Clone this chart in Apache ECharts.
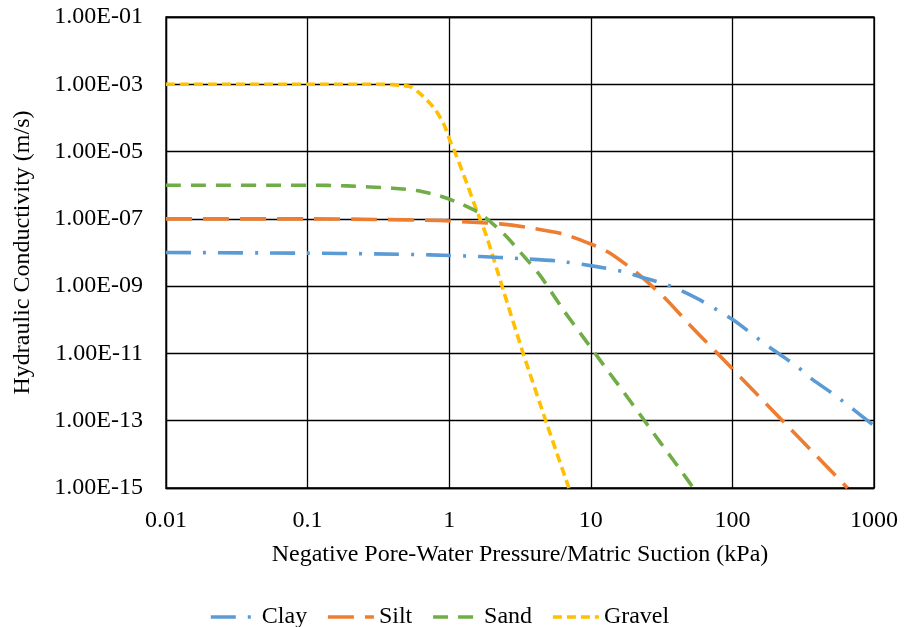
<!DOCTYPE html>
<html>
<head>
<meta charset="utf-8">
<script src="https://cdn.jsdelivr.net/npm/echarts@6/dist/echarts.min.js"></script>
<style>
  html, body { margin: 0; padding: 0; background: #fff; }
  #chart { width: 904px; height: 627px; }
</style>
</head>
<body>
<div id="chart"></div>
<script>
// ---- data ----
const seriesNames = ['Clay', 'Silt', 'Sand', 'Gravel'];

const xTickValues = [0.01, 0.1, 1, 10, 100, 1000];
const xTickLabels = ['0.01', '0.1', '1', '10', '100', '1000'];

const yTickValues = [1e-15, 1e-13, 1e-11, 1e-9, 1e-7, 1e-5, 1e-3, 1e-1];
const yTickLabels = ['1.00E-15', '1.00E-13', '1.00E-11', '1.00E-09', '1.00E-07', '1.00E-05', '1.00E-03', '1.00E-01'];

const clayX = [0.01, 0.1, 0.3, 0.73, 1.65, 3.16, 5.74, 11.0, 17.0, 22.2, 32.5, 40.4, 59, 101, 140, 186, 285, 367, 545, 1000];
const clayK = [1.0e-8, 9.55e-9, 9.12e-9, 8.51e-9, 7.59e-9, 6.61e-9, 5.62e-9, 3.80e-9, 2.69e-9, 1.91e-9, 1.20e-9, 8.51e-10, 3.89e-10, 1.0e-10, 3.55e-11, 1.45e-11, 4.17e-12, 1.70e-12, 5.25e-13, 7.08e-14];

const siltX = [0.01, 0.1, 0.3, 0.86, 1.47, 2.29, 3.53, 6.4, 9.87, 11.7, 13.7, 17.9, 23.5, 34.4, 50.2, 86.4, 113, 175, 255, 394, 650];
const siltK = [1.0e-7, 1.0e-7, 9.6e-8, 8.91e-8, 7.94e-8, 7.08e-8, 5.62e-8, 3.55e-8, 1.82e-8, 1.35e-8, 9.55e-9, 4.27e-9, 1.70e-9, 3.89e-10, 6.92e-11, 6.61e-12, 2.04e-12, 3.02e-13, 5.89e-14, 8.91e-15, 1.0e-15];

const sandX = [0.01, 0.1, 0.19, 0.40, 0.59, 0.86, 1.19, 1.65, 2.41, 3.16, 4.38, 6.4, 8.4, 10.4, 12.9, 17.0, 22.2, 27.6, 34.3, 43.8, 53];
const sandK = [1.0e-6, 1.0e-6, 9.55e-7, 8.13e-7, 6.92e-7, 4.79e-7, 2.88e-7, 1.45e-7, 3.72e-8, 1.05e-8, 2.09e-9, 1.95e-10, 4.07e-11, 1.20e-11, 3.47e-12, 7.24e-13, 1.55e-13, 4.37e-14, 1.26e-14, 3.09e-15, 1.0e-15];

const gravelX = [0.01, 0.1, 0.3, 0.4, 0.45, 0.53, 0.62, 0.77, 0.91, 1.01, 1.13, 1.33, 1.56, 1.84, 2.41, 3.33, 4.88, 7.0];
const gravelK = [1.0e-3, 1.0e-3, 1.0e-3, 9.77e-4, 9.33e-4, 8.51e-4, 5.37e-4, 2.14e-4, 6.92e-5, 2.19e-5, 7.08e-6, 1.15e-6, 1.82e-7, 2.95e-8, 7.59e-10, 1.0e-11, 8.32e-14, 1.0e-15];

// ---- chart ----
const FONT = "'Liberation Serif', 'Times New Roman', serif";
const pairs = (xs, ks) => xs.map((x, i) => [x, ks[i]]);

function labelFor(values, labels, v) {
  const e = Math.log10(v);
  for (let i = 0; i < values.length; i++) {
    if (Math.abs(Math.log10(values[i]) - e) < 1e-6) return labels[i];
  }
  return '';
}

const styles = [
  { color: '#5B9BD5', type: [25, 12, 3, 12] },
  { color: '#ED7D31', type: [26, 11] },
  { color: '#70AD47', type: [15, 10] },
  { color: '#FFC000', type: [9, 5] }
];
const dataSets = [pairs(clayX, clayK), pairs(siltX, siltK), pairs(sandX, sandK), pairs(gravelX, gravelK)];

const chart = echarts.init(document.getElementById('chart'), null, { renderer: 'canvas' });
chart.setOption({
  animation: false,
  backgroundColor: '#fff',
  grid: {
    left: 166, top: 17, width: 708, height: 471,
    show: true, borderColor: '#000', borderWidth: 1.3, backgroundColor: 'transparent'
  },
  legend: {
    data: seriesNames,
    left: 204, top: 600,
    itemWidth: 46, itemHeight: 14, itemGap: 19,
    itemStyle: { color: 'rgba(0,0,0,0)', borderColor: 'rgba(0,0,0,0)', borderWidth: 0, opacity: 0 },
    lineStyle: { width: 3.6 },
    textStyle: { fontFamily: FONT, fontSize: 24, color: '#000' }
  },
  xAxis: {
    type: 'log', logBase: 10, min: 0.01, max: 1000, interval: 1,
    name: 'Negative Pore-Water Pressure/Matric Suction (kPa)',
    nameLocation: 'middle', nameGap: 55,
    nameTextStyle: { fontFamily: FONT, fontSize: 24, color: '#000' },
    axisLine: { show: true, lineStyle: { color: '#000', width: 1.3 } },
    axisTick: { show: false },
    minorTick: { show: false },
    axisLabel: {
      margin: 21, fontFamily: FONT, fontSize: 24, color: '#000',
      formatter: v => labelFor(xTickValues, xTickLabels, v)
    },
    splitLine: { show: true, lineStyle: { color: '#000', width: 1.3 } }
  },
  yAxis: {
    type: 'log', logBase: 10, min: 1e-15, max: 1e-1, interval: 2,
    name: 'Hydraulic Conductivity (m/s)',
    nameLocation: 'middle', nameGap: 131, nameRotate: 90,
    nameTextStyle: { fontFamily: FONT, fontSize: 24, color: '#000' },
    axisLine: { show: true, lineStyle: { color: '#000', width: 1.3 } },
    axisTick: { show: false },
    minorTick: { show: false },
    axisLabel: {
      margin: 23, fontFamily: FONT, fontSize: 24, color: '#000',
      formatter: v => labelFor(yTickValues, yTickLabels, v)
    },
    splitLine: { show: true, lineStyle: { color: '#000', width: 1.3 } }
  },
  series: seriesNames.map((name, i) => ({
    name: name,
    type: 'line',
    data: dataSets[i],
    symbol: 'none',
    showSymbol: false,
    smooth: 0.25,
    clip: true,
    z: 10 - i,
    itemStyle: { color: styles[i].color },
    lineStyle: { color: styles[i].color, width: 3.6, type: styles[i].type, cap: 'butt' }
  }))
});
</script>
</body>
</html>
